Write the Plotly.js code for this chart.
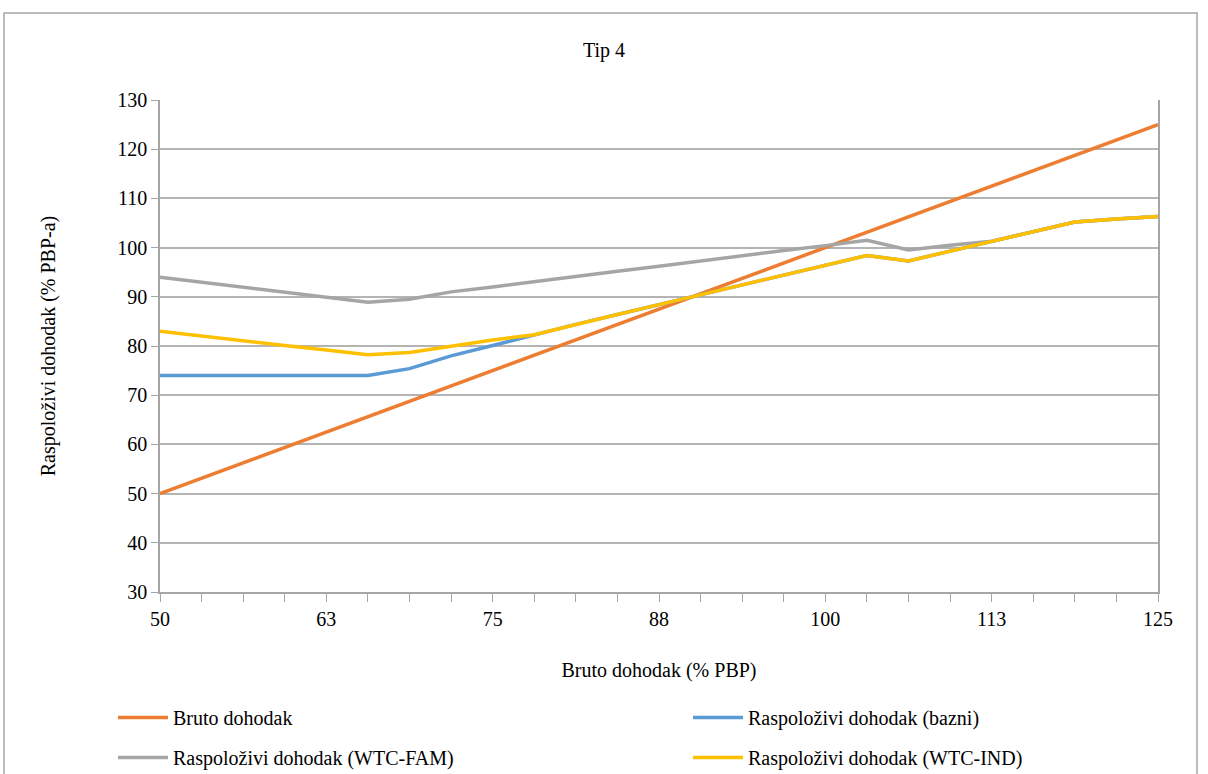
<!DOCTYPE html>
<html>
<head>
<meta charset="utf-8">
<script src="https://cdn.plot.ly/plotly-3.0.1.min.js"></script>
</head>
<body style="margin:0">
<div id="chart"></div>
<script>
// Gross income (% PBP) – x values
const xValues = [50, 53.125, 56.25, 59.375, 62.5, 65.625, 68.75, 71.875, 75, 78.125, 81.25, 84.375, 87.5,
                 90.625, 93.75, 96.875, 100, 103.125, 106.25, 109.375, 112.5, 115.625, 118.75, 121.875, 125];

const brutoDohodak = [50, 53.125, 56.25, 59.375, 62.5, 65.625, 68.75, 71.875, 75, 78.125, 81.25, 84.375, 87.5,
                      90.625, 93.75, 96.875, 100, 103.125, 106.25, 109.375, 112.5, 115.625, 118.75, 121.875, 125];

const raspBazni = [74.0, 74.0, 74.0, 74.0, 74.0, 74.0, 75.4, 78.0, 80.1, 82.3, 84.4, 86.4, 88.4,
                   90.4, 92.4, 94.4, 96.4, 98.4, 97.3, 99.3, 101.3, 103.3, 105.2, 105.8, 106.3];

const raspWtcFam = [94.0, 93.0, 92.0, 90.9, 89.9, 88.9, 89.5, 91.0, 92.0, 93.1, 94.1, 95.2, 96.2,
                    97.3, 98.3, 99.4, 100.4, 101.5, 99.5, 100.5, 101.3, 103.3, 105.2, 105.8, 106.3];

const raspWtcInd = [83.0, 82.0, 81.1, 80.1, 79.2, 78.2, 78.7, 80.0, 81.2, 82.3, 84.4, 86.4, 88.4,
                    90.4, 92.4, 94.4, 96.4, 98.4, 97.3, 99.3, 101.3, 103.3, 105.2, 105.8, 106.3];

const seriesNames = ["Bruto dohodak", "Raspoloživi dohodak (bazni)",
                     "Raspoloživi dohodak (WTC-FAM)", "Raspoloživi dohodak (WTC-IND)"];
const seriesColors = ["#ED7D31", "#5B9BD5", "#A5A5A5", "#FFC000"];

const xTickVals = [50, 62.5, 75, 87.5, 100, 112.5, 125];
const xTickText = ["50", "63", "75", "88", "100", "113", "125"];
const yTickVals = [30, 40, 50, 60, 70, 80, 90, 100, 110, 120, 130];

const chartTitle = "Tip 4";
const xTitle = "Bruto dohodak (% PBP)";
const yTitle = "Raspoloživi dohodak (% PBP-a)";

const legendIds = ["legend", "legend2", "legend3", "legend4"];
const ys = [brutoDohodak, raspBazni, raspWtcFam, raspWtcInd];
const traces = ys.map((y, i) => ({
  type: "scatter",
  mode: "lines",
  x: xValues,
  y: y,
  name: seriesNames[i],
  legend: legendIds[i],
  line: { color: seriesColors[i], width: 3.5 },
  hoverinfo: "x+y+name"
}));

function mkFont() { return { family: "Liberation Serif", size: 20 }; }

// legend anchor positions (left edge, top edge) in pixels
const legendPos = [[113, 698], [688, 698], [113, 738], [688, 738]];
function legendCfg(p) {
  return {
    orientation: "h",
    xref: "container", yref: "container",
    x: p[0] / 1208, xanchor: "left",
    y: 1 - p[1] / 774, yanchor: "top",
    font: mkFont(),
    itemwidth: 50,
    bgcolor: "rgba(0,0,0,0)"
  };
}

// plot area: l=160, r=1158, t=100, b=592
const W = 998, H = 492;
const layout = {
  width: 1208,
  height: 774,
  margin: { l: 160, r: 50, t: 100, b: 182 },
  font: { color: "#000000" },
  paper_bgcolor: "#fff",
  plot_bgcolor: "#fff",
  showlegend: true,
  title: {
    text: chartTitle,
    font: mkFont(),
    x: 0.5, xref: "container", xanchor: "center",
    y: 1 - 50 / 774, yref: "container", yanchor: "middle"
  },
  xaxis: {
    range: [50, 125],
    tickmode: "array",
    tickvals: xTickVals,
    ticktext: xTickText,
    ticks: "outside",
    ticklen: 8,
    tickcolor: "#a6a6a6",
    tickwidth: 1,
    minor: { dtick: 3.125, tick0: 50, ticks: "outside", ticklen: 8, tickcolor: "#a6a6a6", tickwidth: 1, showgrid: false },
    showline: true,
    linecolor: "#a6a6a6",
    linewidth: 1.5,
    showgrid: false,
    zeroline: false,
    tickfont: mkFont(),
    title: { text: xTitle, font: mkFont(), standoff: 34 },
    fixedrange: true
  },
  yaxis: {
    range: [30, 130],
    tickmode: "array",
    tickvals: yTickVals,
    ticks: "outside",
    ticklen: 7,
    tickcolor: "#a6a6a6",
    tickwidth: 1,
    showline: true,
    mirror: true,
    linecolor: "#a6a6a6",
    linewidth: 1.5,
    showgrid: true,
    gridcolor: "#b4b4b4",
    gridwidth: 1.5,
    zeroline: false,
    tickfont: mkFont(),
    title: { text: yTitle, font: mkFont(), standoff: 56 },
    fixedrange: true
  },
  legend: legendCfg(legendPos[0]),
  legend2: legendCfg(legendPos[1]),
  legend3: legendCfg(legendPos[2]),
  legend4: legendCfg(legendPos[3]),
  shapes: [{
    type: "rect",
    xref: "paper", yref: "paper",
    x0: (4 - 160) / W, x1: (1197 - 160) / W,
    y0: (592 - 820) / H, y1: (592 - 13) / H,
    line: { color: "#a6a6a6", width: 1.5 },
    fillcolor: "rgba(0,0,0,0)",
    layer: "below"
  }]
};

Plotly.newPlot("chart", traces, layout, { displayModeBar: false });
</script>
</body>
</html>
